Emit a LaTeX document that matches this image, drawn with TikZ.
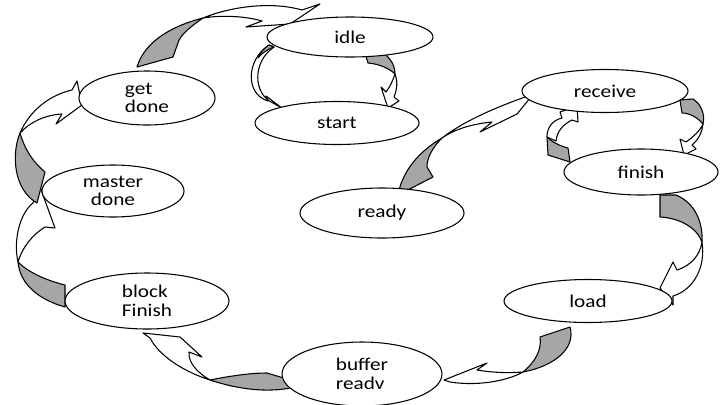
\documentclass[tikz,border=0pt]{standalone}
\usepackage{fontspec}
\setmainfont{Carlito}[FakeStretch=1.18]
\usetikzlibrary{shapes.geometric}
\definecolor{shade}{RGB}{166,166,166}
\tikzset{
  state/.style={ellipse, draw, fill=white, line width=0.8pt, inner sep=0pt,
    font=\fontsize{13.5}{14}\selectfont},
  back/.style={draw, fill=shade, line width=0.8pt, line join=round},
  front/.style={draw, fill=white, line width=0.8pt, line join=round}
}
\begin{document}
\begin{tikzpicture}[x=0.75pt,y=-0.75pt]
\useasboundingbox[fill=white] (0,0) rectangle (720,404);

% ---- arrows (drawn under the states) ----
% get done -> idle
\draw[back] (137,67) .. controls (145,40) and (175,25) .. (203,18) .. controls (190,27) and (180,35) .. (178,43) -- (173,57) -- cycle;
\draw[front] (203,18) .. controls (235,5) and (275,2) .. (302,10) -- (320,4) -- (290,24) -- (246,27) -- (262,21) .. controls (245,16) and (222,15) .. (203,18) -- cycle;
% idle -> start (right)
\draw[back] (364,50) -- (377,49) .. controls (388,55) and (395,63) .. (395,74) .. controls (390,69) and (380,64) .. (368,63) -- cycle;
\draw[front] (395,74) .. controls (398,82) and (397,90) .. (394,97) -- (399,101) -- (388,108) -- (381,87) -- (386,92) .. controls (390,87) and (393,80) .. (395,74) -- cycle;
% idle -> start (left, thin)
\draw[front] (269,45) .. controls (246,60) and (245,94) .. (268,101) -- (266,96) -- (282,108) -- (273,103) .. controls (253,94) and (252,62) .. (274,47) -- cycle;
\draw[back] (269,45) .. controls (263,49) and (260,53) .. (258,58) .. controls (261,54) and (266,50) .. (274,47) -- cycle;
% ready -> receive
\draw[back] (398,195) .. controls (402,172) and (418,152) .. (442,138) .. controls (432,148) and (427,158) .. (427,167) -- (433,177) -- cycle;
\draw[front] (442,138) .. controls (465,120) and (500,106) .. (525,97) -- (535,92) -- (517,114) -- (480,132) -- (492,122) .. controls (472,124) and (455,129) .. (442,138) -- cycle;
% receive -> finish
\draw[back] (680,100) -- (693,99) .. controls (702,105) and (705,115) .. (703,124) .. controls (698,118) and (690,113) .. (682,113) -- cycle;
\draw[front] (703,124) .. controls (702,133) and (698,140) .. (692,145) -- (696,149) -- (684,155) -- (680,139) -- (686,142) .. controls (693,137) and (700,131) .. (703,124) -- cycle;
% finish -> receive
\draw[front] (547,137) .. controls (547,127) and (553,120) .. (562,118) -- (560,112) -- (577,106) -- (578,122) -- (572,120) .. controls (562,125) and (557,132) .. (556,141) -- cycle;
\draw[back] (547,137) -- (548,155) -- (570,162) -- (568,148) .. controls (560,146) and (552,142) .. (547,137) -- cycle;
% finish -> load
\draw[back] (660,195) -- (660,217) .. controls (680,218) and (697,228) .. (702,242) .. controls (703,222) and (695,203) .. (676,195) -- cycle;
\draw[front] (702,242) .. controls (700,256) and (690,266) .. (677,270) -- (673,262) -- (660,288) -- (673,305) -- (673,296) .. controls (693,290) and (706,268) .. (702,242) -- cycle;
% load -> buffer readv
\draw[back] (540,337) -- (570,327) .. controls (576,348) and (555,366) .. (523,372) .. controls (535,362) and (542,350) .. (540,337) -- cycle;
\draw[front] (523,372) .. controls (505,382) and (475,386) .. (450,382) -- (444,380) -- (487,363) -- (477,370) .. controls (495,373) and (510,373) .. (523,372) -- cycle;
% buffer readv -> block Finish
\draw[back] (210,380) .. controls (230,376) and (250,373) .. (267,373) -- (297,382) -- (295,387) .. controls (270,393) and (240,390) .. (210,380) -- cycle;
\draw[front] (210,380) .. controls (185,372) and (160,357) .. (150,338) -- (143,333) -- (180,337) -- (202,357) -- (189,352) .. controls (188,363) and (198,373) .. (210,380) -- cycle;
% block Finish -> master done
\draw[back] (65,285) .. controls (45,280) and (28,272) .. (18,262) .. controls (20,285) and (40,300) .. (65,307) -- cycle;
\draw[front] (18,262) .. controls (13,240) and (20,213) .. (33,203) -- (40,187) -- (55,228) -- (45,227) .. controls (32,235) and (22,248) .. (18,262) -- cycle;
% master done -> get done
\draw[back] (37,203) -- (45,172) .. controls (33,162) and (25,150) .. (20,133) .. controls (11,155) and (14,190) .. (37,203) -- cycle;
\draw[front] (20,133) .. controls (30,110) and (50,95) .. (72,90) -- (77,81) -- (82,105) -- (56,124) -- (62,114) .. controls (45,115) and (30,122) .. (20,133) -- cycle;

% ---- states ----
\node[state, minimum width=124.5pt, minimum height=30pt] (idle) at (350,37) {idle};
\node[state, minimum width=123pt, minimum height=32.25pt] (start) at (337,123) {start};
\node[state, minimum width=102pt, minimum height=40.5pt, align=left] (getdone) at (147,98) {get\\done};
\node[state, minimum width=106.5pt, minimum height=39pt, align=center] (master) at (113,191) {master\\done};
\node[state, minimum width=123pt, minimum height=42pt, align=left] (block) at (147,301) {block\\Finish};
\node[state, minimum width=120pt, minimum height=48pt, align=left] (buffer) at (362,374) {buffer\\readv};
\node[state, minimum width=126pt, minimum height=32.25pt] (load) at (588,301) {load};
\node[state, minimum width=115.5pt, minimum height=34.5pt] (finish) at (641,172) {finish};
\node[state, minimum width=124.5pt, minimum height=32.25pt] (receive) at (605,91) {receive};
\node[state, minimum width=123pt, minimum height=37.5pt] (ready) at (382,213) {ready};
\end{tikzpicture}
\end{document}
